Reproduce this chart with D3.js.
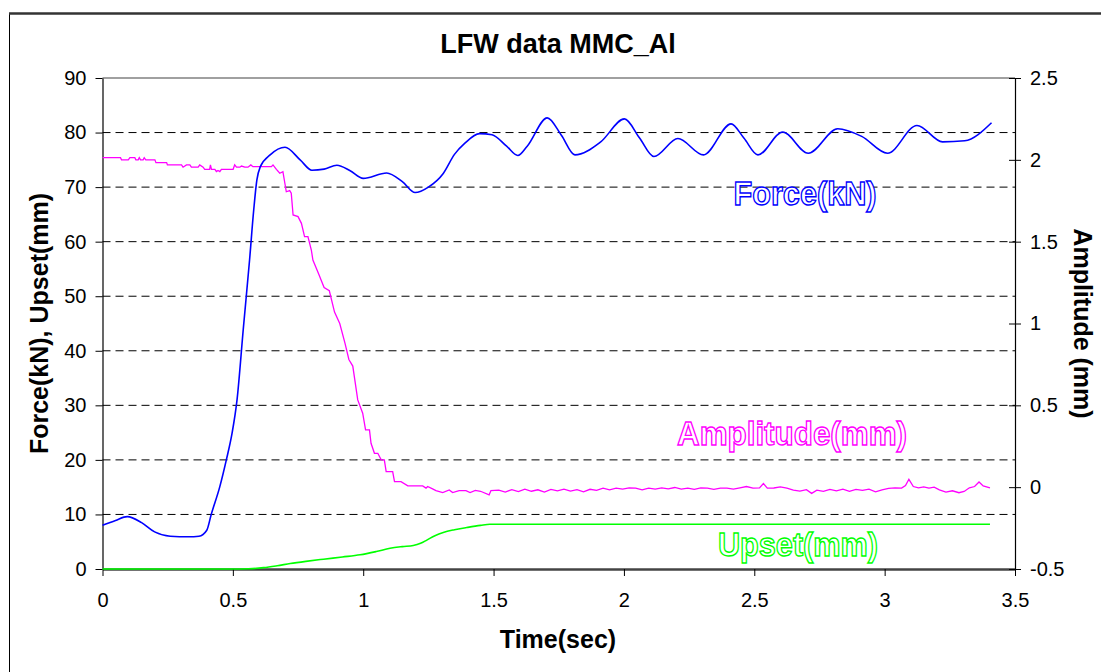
<!DOCTYPE html>
<html>
<head>
<meta charset="utf-8">
<script src="https://cdn.jsdelivr.net/npm/d3@7"></script>
<style>
  body { margin: 0; background: #fff; }
  svg text { font-family: "Liberation Sans", Arial, sans-serif; }
</style>
</head>
<body>
<script>
// Force (kN) against time (sec), left axis
var forceTime = [0, 0.05, 0.095, 0.15, 0.2, 0.26, 0.33, 0.37, 0.40, 0.417, 0.45, 0.475, 0.497, 0.516, 0.54, 0.564, 0.58, 0.592, 0.605, 0.643,
  0.70, 0.758, 0.803, 0.85, 0.899, 0.95, 1.0, 1.09, 1.15, 1.199, 1.25, 1.307, 1.35, 1.389, 1.446, 1.494, 1.55, 1.593, 1.629, 1.706,
  1.76, 1.812, 1.911, 2.002, 2.06, 2.115, 2.207, 2.305, 2.411, 2.46, 2.514, 2.609, 2.707, 2.82, 2.912, 3.011, 3.124, 3.222, 3.307, 3.41];
var forceVal = [8.0, 8.9, 9.6, 8.5, 6.8, 6.0, 5.9, 6.0, 7.1, 10, 15.1, 20, 24.9, 31, 44, 56.6, 65.8, 71.3, 73.7, 75.9,
  77.3, 75.0, 73.1, 73.3, 74.0, 73.0, 71.6, 72.6, 71.0, 69.0, 70.0, 72.5, 76.0, 78.0, 79.8, 79.6, 77.5, 75.8, 77.5, 82.7,
  79.5, 75.9, 78.3, 82.5, 79.0, 75.6, 78.9, 75.9, 81.6, 79.0, 75.9, 80.1, 76.2, 80.7, 79.3, 76.2, 81.3, 78.3, 78.5, 81.8];

// Amplitude (mm), right axis
var ampTime = [0, 0.069, 0.073, 0.099, 0.105, 0.124, 0.128, 0.137, 0.141, 0.146, 0.156, 0.160, 0.166, 0.201, 0.205, 0.246, 0.249, 0.303, 0.309, 0.322,
  0.335, 0.341, 0.367, 0.373, 0.386, 0.392, 0.411, 0.414, 0.418, 0.431, 0.437, 0.443, 0.450, 0.456, 0.501, 0.507, 0.514, 0.527, 0.533, 0.546,
  0.558, 0.569, 0.577, 0.648, 0.654, 0.667, 0.680, 0.692, 0.705, 0.718, 0.724, 0.731, 0.750, 0.763, 0.775, 0.788, 0.801, 0.807, 0.83, 0.85,
  0.87, 0.89, 0.91, 0.93, 0.945, 0.96, 0.979, 0.998, 1.009, 1.024, 1.030, 1.043, 1.056, 1.069, 1.081, 1.088, 1.113, 1.120, 1.145, 1.171,
  1.228, 1.241, 1.247, 1.266, 1.279, 1.305, 1.33, 1.343, 1.368, 1.394, 1.41, 1.43, 1.45, 1.483, 1.49, 1.52, 1.545, 1.57, 1.595, 1.62,
  1.645, 1.67, 1.695, 1.72, 1.745, 1.77, 1.795, 1.82, 1.845, 1.87, 1.895, 1.92, 1.945, 1.97, 1.995, 2.02, 2.045, 2.07, 2.095, 2.12,
  2.145, 2.17, 2.195, 2.22, 2.245, 2.27, 2.295, 2.32, 2.345, 2.37, 2.395, 2.42, 2.445, 2.47, 2.495, 2.52, 2.535, 2.55, 2.575, 2.6,
  2.625, 2.65, 2.675, 2.7, 2.72, 2.74, 2.765, 2.79, 2.815, 2.84, 2.865, 2.89, 2.915, 2.94, 2.965, 2.99, 3.015, 3.04, 3.065, 3.08,
  3.093, 3.11, 3.13, 3.15, 3.17, 3.19, 3.21, 3.235, 3.26, 3.285, 3.305, 3.325, 3.345, 3.362, 3.378, 3.404];
var ampVal = [2.013, 2.013, 2.0, 2.0, 2.013, 2.013, 2.0, 2.0, 2.013, 2.0, 2.0, 2.013, 2.0, 2.0, 1.983, 1.983, 1.969, 1.969, 1.955, 1.969,
  1.969, 1.955, 1.955, 1.969, 1.955, 1.942, 1.942, 1.969, 1.942, 1.942, 1.928, 1.935, 1.928, 1.942, 1.942, 1.969, 1.955, 1.955, 1.962, 1.955,
  1.955, 1.969, 1.958, 1.958, 1.969, 1.942, 1.918, 1.928, 1.805, 1.812, 1.796, 1.663, 1.653, 1.612, 1.531, 1.531, 1.449, 1.388, 1.30, 1.22,
  1.20, 1.07, 1.0, 0.88, 0.78, 0.74, 0.533, 0.452, 0.35, 0.35, 0.268, 0.207, 0.207, 0.167, 0.167, 0.095, 0.095, 0.034, 0.034, 0.008,
  0.008, -0.006, 0.004, -0.01, -0.021, -0.033, -0.017, -0.033, -0.021, -0.021, -0.033, -0.02, -0.025, -0.047, -0.021, -0.018, -0.03, -0.015, -0.027, -0.012,
  -0.025, -0.016, -0.03, -0.014, -0.022, -0.012, -0.024, -0.015, -0.028, -0.013, -0.02, -0.006, -0.016, -0.006, -0.012, -0.004, -0.006, -0.016, -0.006, -0.012,
  -0.004, -0.01, -0.002, -0.012, -0.006, -0.014, -0.005, -0.006, -0.014, -0.006, -0.006, -0.012, -0.004, 0.004, -0.006, -0.004, 0.022, -0.006, -0.005, 0.002,
  -0.006, -0.018, -0.024, -0.015, -0.038, -0.018, -0.026, -0.014, -0.022, -0.012, -0.026, -0.014, -0.02, -0.012, -0.028, -0.016, -0.008, -0.004, -0.006, 0.01,
  0.048, 0.004, -0.004, 0.002, -0.006, 0.0, -0.016, -0.03, -0.022, -0.034, -0.026, -0.004, 0.004, 0.032, 0.008, -0.004];

// Upset (mm), left axis
var upsetTime = [0, 0.5, 0.56, 0.618, 0.67, 0.72, 0.78, 0.848, 0.92, 0.988, 1.05, 1.103, 1.15, 1.192, 1.22, 1.244, 1.275, 1.307, 1.35, 1.397, 1.45, 1.486, 2.0, 3.404];
var upsetVal = [0, 0, 0.05, 0.25, 0.6, 1.0, 1.4, 1.8, 2.2, 2.6, 3.2, 3.8, 4.1, 4.3, 4.7, 5.3, 6.1, 6.7, 7.2, 7.6, 8.0, 8.2, 8.2, 8.2];

var xTicks = [0, 0.5, 1, 1.5, 2, 2.5, 3, 3.5];
var leftTicks = [0, 10, 20, 30, 40, 50, 60, 70, 80, 90];
var rightTicks = [-0.5, 0, 0.5, 1, 1.5, 2, 2.5];

var margin = {top: 78, right: 86, bottom: 103, left: 102.5}
  , width = 1101 - margin.left - margin.right
  , height = 672 - margin.top - margin.bottom;

var xScale = d3.scaleLinear().domain([0, 3.5]).range([0, width]);
var yLeft = d3.scaleLinear().domain([0, 90]).range([height, 0]);
var yRight = d3.scaleLinear().domain([-0.5, 2.5]).range([height, 0]);

var root = d3.select("body").append("svg")
  .attr("width", 1101)
  .attr("height", 672);

root.append("rect").attr("width", 1101).attr("height", 672).attr("fill", "#fff");

// chart frame (runs off the right and bottom edges)
root.append("rect")
  .attr("x", 9.5).attr("y", 13.5)
  .attr("width", 1200).attr("height", 800)
  .attr("fill", "none").attr("stroke", "#000").attr("stroke-width", 1);
root.append("line")
  .attr("x1", 9).attr("x2", 1101).attr("y1", 13.5).attr("y2", 13.5)
  .attr("stroke", "#333").attr("stroke-width", 2.5);

root.append("text")
  .attr("x", 558).attr("y", 52.5)
  .attr("text-anchor", "middle")
  .attr("font-size", 27).attr("font-weight", "bold")
  .text("LFW data MMC_Al");

var svg = root.append("g")
  .attr("transform", "translate(" + margin.left + "," + margin.top + ")");

// dashed gridlines
svg.selectAll(".grid")
  .data(leftTicks.slice(1, -1))
  .enter().append("line")
  .attr("x1", 0).attr("x2", width)
  .attr("y1", function(d) { return yLeft(d); })
  .attr("y2", function(d) { return yLeft(d); })
  .attr("stroke", "#000").attr("stroke-width", 1)
  .attr("stroke-dasharray", "8,5");

svg.append("line")
  .attr("x1", 0).attr("x2", width)
  .attr("y1", yLeft(90)).attr("y2", yLeft(90))
  .attr("stroke", "#808080").attr("stroke-width", 1.5);

// axes
var gx = svg.append("g")
  .attr("transform", "translate(0," + height + ")")
  .call(d3.axisBottom(xScale).tickValues(xTicks).tickFormat(String).tickSize(7).tickSizeOuter(0).tickPadding(17));
gx.select(".domain").attr("stroke", "#444").attr("stroke-width", 2.5);

var gl = svg.append("g")
  .call(d3.axisLeft(yLeft).tickValues(leftTicks).tickFormat(String).tickSize(7).tickSizeOuter(0).tickPadding(9));

var gr = svg.append("g")
  .attr("transform", "translate(" + width + ",0)")
  .call(d3.axisRight(yRight).tickValues(rightTicks).tickFormat(String).tickSize(6).tickSizeOuter(0).tickPadding(9));
gr.selectAll(".tick line").attr("x1", -6);

[gx, gl, gr].forEach(function(g) {
  g.attr("font-size", 20).attr("font-family", null);
  g.selectAll("text").attr("fill", "#000");
  g.selectAll(".tick line").attr("stroke", "#000");
});
gl.select(".domain").attr("stroke", "#000").attr("stroke-width", 1.2);
gr.select(".domain").attr("stroke", "#000").attr("stroke-width", 1.2);

// axis titles
root.append("text")
  .attr("x", 558).attr("y", 648)
  .attr("text-anchor", "middle")
  .attr("font-size", 25).attr("font-weight", "bold")
  .text("Time(sec)");

root.append("text")
  .attr("transform", "translate(48," + (margin.top + height / 2) + ") rotate(-90)")
  .attr("text-anchor", "middle")
  .attr("font-size", 25).attr("font-weight", "bold")
  .text("Force(kN), Upset(mm)");

root.append("text")
  .attr("transform", "translate(1074," + (margin.top + height / 2) + ") rotate(90)")
  .attr("text-anchor", "middle")
  .attr("font-size", 25).attr("font-weight", "bold")
  .text("Amplitude (mm)");

// series lines
var smoothLine = function(ys) {
  return d3.line()
    .x(function(d) { return xScale(d[0]); })
    .y(function(d) { return ys(d[1]); })
    .curve(d3.curveMonotoneX);
};

svg.append("path")
  .datum(d3.zip(upsetTime, upsetVal))
  .attr("fill", "none").attr("stroke", "#00ff00").attr("stroke-width", 1.6)
  .attr("d", smoothLine(yLeft));

svg.append("path")
  .datum(d3.zip(ampTime, ampVal))
  .attr("fill", "none").attr("stroke", "#ff00ff").attr("stroke-width", 1.3)
  .attr("d", d3.line()
    .x(function(d) { return xScale(d[0]); })
    .y(function(d) { return yRight(d[1]); }));

svg.append("path")
  .datum(d3.zip(forceTime, forceVal))
  .attr("fill", "none").attr("stroke", "#0000ff").attr("stroke-width", 1.6)
  .attr("d", smoothLine(yLeft));

// outlined series labels
var seriesLabels = [
  {text: "Force(kN)", x: 805, y: 205, w: 143, color: "#0000ff"},
  {text: "Amplitude(mm)", x: 792, y: 445, w: 230, color: "#ff00ff"},
  {text: "Upset(mm)", x: 798, y: 556, w: 160, color: "#00ff00"}
];
root.selectAll(".slabel")
  .data(seriesLabels)
  .enter().append("text")
  .attr("x", function(d) { return d.x; })
  .attr("y", function(d) { return d.y; })
  .attr("text-anchor", "middle")
  .attr("font-size", 34).attr("font-weight", "bold")
  .attr("textLength", function(d) { return d.w; })
  .attr("lengthAdjust", "spacingAndGlyphs")
  .attr("fill", "#fff")
  .attr("stroke", function(d) { return d.color; })
  .attr("stroke-width", 1.4)
  .text(function(d) { return d.text; });
</script>
</body>
</html>
